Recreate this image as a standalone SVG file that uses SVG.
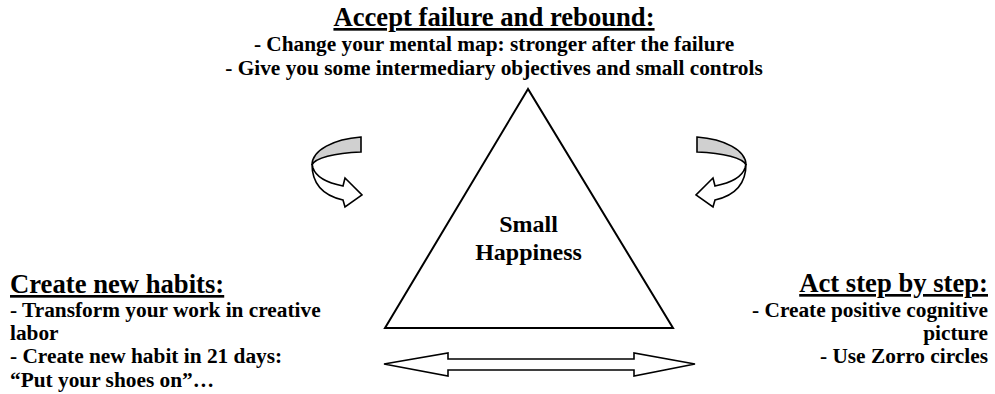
<svg xmlns="http://www.w3.org/2000/svg" width="995" height="394" viewBox="0 0 995 394">
<style>
text{font-family:"Liberation Serif","Times New Roman",serif;font-weight:bold;fill:#000}
.h{font-size:26.67px;text-decoration:underline}
.s{font-size:21.33px}
.c{font-size:24px}
.shape{stroke:#000;stroke-width:2;fill:#fff;stroke-linejoin:miter}
.ol{stroke:#000;stroke-width:1.6;stroke-linejoin:miter}
</style>
<defs>
<g id="curl">
<path class="ol" fill="#fff" d="M312,164 C312,185 325,196 343,200 L345,207 L362,195 L345,178 L343,186 C328,183 316,177 313,168 Z"/>
<path class="ol" fill="#d0d0d0" d="M361,137 C334,139 312,150 312,165 C315,158 334,153 361,152 Z"/>
</g>
</defs>
<g id="top">
<text class="h" x="494" y="26" text-anchor="middle">Accept failure and rebound:</text>
<text class="s" x="494" y="51" text-anchor="middle">- Change your mental map: stronger after the failure</text>
<text class="s" x="494" y="75" text-anchor="middle">- Give you some intermediary objectives and small controls</text>
</g>
<g id="triangle">
<polygon class="shape" points="528,89 385,328 673,328"/>
<text class="c" x="528.5" y="232" text-anchor="middle">Small</text>
<text class="c" x="528.5" y="260" text-anchor="middle">Happiness</text>
</g>
<g id="left">
<text class="h" x="10" y="293">Create new habits:</text>
<text class="s" x="10" y="317">- Transform your work in creative</text>
<text class="s" x="10" y="340">labor</text>
<text class="s" x="10" y="363">- Create new habit in 21 days:</text>
<text class="s" x="10" y="387">“Put your shoes on”…</text>
</g>
<g id="right">
<text class="h" x="988" y="292" text-anchor="end">Act step by step:</text>
<text class="s" x="988" y="317" text-anchor="end">- Create positive cognitive</text>
<text class="s" x="988" y="340" text-anchor="end">picture</text>
<text class="s" x="988" y="363" text-anchor="end">- Use Zorro circles</text>
</g>
<g id="connectors">
<use href="#curl"/>
<use href="#curl" transform="translate(1058,0) scale(-1,1)"/>
<path class="ol" fill="#fff" d="M384,364 L448,353 L448,359 L634,359 L634,353 L695,364 L634,376 L634,370 L448,370 L448,376 Z"/>
</g>
</svg>
